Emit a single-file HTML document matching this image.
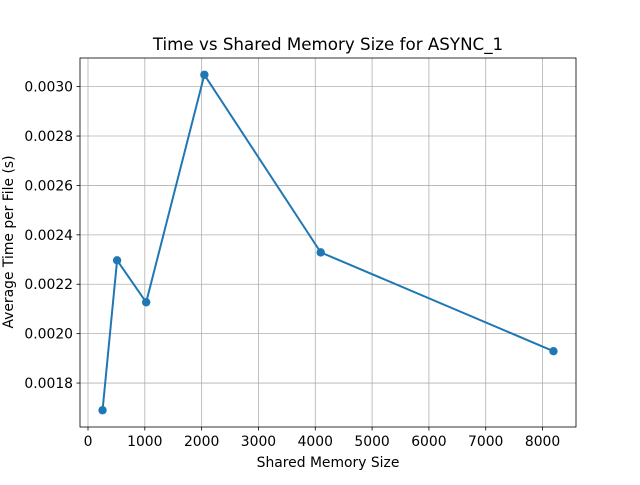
<!DOCTYPE html>
<html><head><meta charset="utf-8"><style>
body{margin:0;background:#fff;}
svg{font-family:"DejaVu Sans","Liberation Sans",sans-serif;}
</style></head><body>
<svg id="chart" width="640" height="480" viewBox="0 0 640 480">
<rect width="640" height="480" fill="#fff"/>
<text x="328" y="50" text-anchor="middle" font-size="16.7">Time vs Shared Memory Size for ASYNC_1</text>
<text x="328" y="467" text-anchor="middle" font-size="13.9">Shared Memory Size</text>
<text transform="translate(13,242) rotate(-90)" text-anchor="middle" font-size="13.9">Average Time per File (s)</text>
<g id="grid"></g><g id="ticks"></g><g id="series"></g>
<rect x="80" y="58" width="496" height="369" fill="none" stroke="#000" stroke-width="0.8"/>
</svg>
<script>
const xValues=[256,512,1024,2048,4096,8192];
const yValues=[0.00169,0.002297,0.002127,0.003048,0.002329,0.001929];
const xTicks=[0,1000,2000,3000,4000,5000,6000,7000,8000];
const yTicks=[0.0018,0.0020,0.0022,0.0024,0.0026,0.0028,0.0030];
const L=80,R=576,T=58,B=427;
const xmin0=Math.min(...xValues),xmax0=Math.max(...xValues),xm=(xmax0-xmin0)*0.05;
const ymin0=Math.min(...yValues),ymax0=Math.max(...yValues),ym=(ymax0-ymin0)*0.05;
const xs=v=>L+(v-(xmin0-xm))/((xmax0+xm)-(xmin0-xm))*(R-L);
const ys=v=>B-(v-(ymin0-ym))/((ymax0+ym)-(ymin0-ym))*(B-T);
const NS="http://www.w3.org/2000/svg";
function mk(tag,attrs,parent){const e=document.createElementNS(NS,tag);for(const k in attrs)e.setAttribute(k,attrs[k]);document.getElementById(parent).appendChild(e);return e;}
xTicks.forEach(t=>{const x=xs(t);
const g=mk('line',{x1:x,x2:x,y1:T,y2:B,stroke:'#b0b0b0','stroke-width':0.8},'grid');


mk('line',{x1:x,x2:x,y1:B,y2:B+3.5,stroke:'#000','stroke-width':0.8},'ticks');
const tx=mk('text',{x:x,y:B+19,'text-anchor':'middle','font-size':13.9},'ticks');tx.textContent=t;

});
yTicks.forEach(t=>{const y=ys(t);
const g=mk('line',{x1:L,x2:R,y1:y,y2:y,stroke:'#b0b0b0','stroke-width':0.8},'grid');


mk('line',{x1:L-3.5,x2:L,y1:y,y2:y,stroke:'#000','stroke-width':0.8},'ticks');
const tx=mk('text',{x:L-7,y:y+5,'text-anchor':'end','font-size':13.9},'ticks');tx.textContent=t.toFixed(4);

});
const pts=xValues.map((v,i)=>xs(v)+','+ys(yValues[i])).join(' ');
const pl=mk('polyline',{points:pts,fill:'none',stroke:'#1f77b4','stroke-width':2},'series');


xValues.forEach((v,i)=>{const c=mk('circle',{cx:xs(v),cy:ys(yValues[i]),r:4.2,fill:'#1f77b4'},'series');

});
</script>
</body></html>
